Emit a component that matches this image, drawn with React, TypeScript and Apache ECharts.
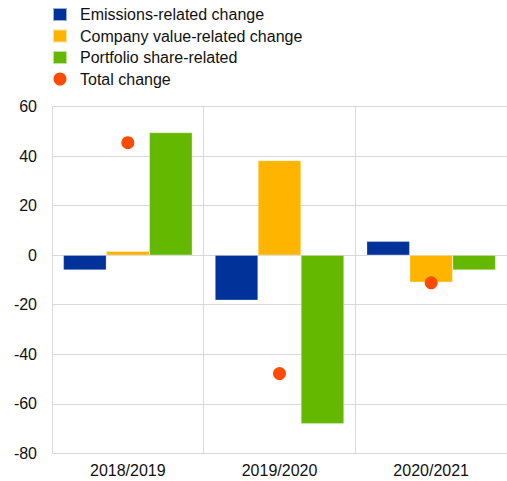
import React, { useEffect, useRef } from "react";
import * as echarts from "echarts";

const categories = ["2018/2019", "2019/2020", "2020/2021"];
const emissions = [-6.0, -18.2, 5.6];
const companyValue = [1.6, 38.2, -10.9];
const portfolioShare = [49.5, -68.1, -6.0];
const totalChange = [45.4, -47.8, -11.2];
const yTicks = { min: -80, max: 60, interval: 20 };

const FONT = "'Liberation Sans', Arial, sans-serif";

export default function App() {
  const ref = useRef<HTMLDivElement>(null);
  useEffect(() => {
    if (!ref.current) return;
    const chart = echarts.init(ref.current, undefined, { renderer: "svg" });
    chart.setOption({
      animation: false,
      textStyle: { fontFamily: FONT },
      legend: {
        orient: "vertical",
        left: 47,
        top: 1,
        itemWidth: 14,
        itemHeight: 13,
        itemGap: 4.5,
        textStyle: { fontSize: 16, lineHeight: 17, color: "#111", fontFamily: FONT, padding: [0, 0, 0, 8] },
        data: [
          { name: "Emissions-related change", icon: "rect" },
          { name: "Company value-related change", icon: "rect" },
          { name: "Portfolio share-related", icon: "rect" },
          { name: "Total change", icon: "circle" },
        ],
      },
      grid: { left: 52, top: 106.5, width: 457, bottom: 27.7, containLabel: false },
      xAxis: {
        type: "category",
        data: categories,
        boundaryGap: true,
        axisLine: { show: true, lineStyle: { color: "#d9d9d9" } },
        axisTick: { show: false },
        axisLabel: { fontSize: 16, color: "#111", margin: 9, fontFamily: FONT },
        splitLine: { show: true, interval: 0, lineStyle: { color: "#d9d9d9" } },
      },
      yAxis: {
        type: "value",
        min: yTicks.min,
        max: yTicks.max,
        interval: yTicks.interval,
        axisLine: { show: true, lineStyle: { color: "#d9d9d9" } },
        axisTick: { show: false },
        axisLabel: { fontSize: 16, color: "#111", margin: 15, fontFamily: FONT },
        splitLine: { show: true, lineStyle: { color: "#d9d9d9" } },
      },
      series: [
        {
          name: "Emissions-related change",
          type: "bar",
          data: emissions,
          barGap: "0%",
          barCategoryGap: "15%",
          itemStyle: { color: "#003299", borderColor: "rgba(255,255,255,0.6)", borderWidth: 0.5 },
        },
        {
          name: "Company value-related change",
          type: "bar",
          data: companyValue,
          barGap: "0%",
          barCategoryGap: "15%",
          itemStyle: { color: "#FFB400", borderColor: "rgba(255,255,255,0.6)", borderWidth: 0.5 },
        },
        {
          name: "Portfolio share-related",
          type: "bar",
          data: portfolioShare,
          barGap: "0%",
          barCategoryGap: "15%",
          itemStyle: { color: "#65B800", borderColor: "rgba(255,255,255,0.6)", borderWidth: 0.5 },
        },
        {
          name: "Total change",
          type: "scatter",
          data: totalChange,
          symbol: "circle",
          symbolSize: 13,
          itemStyle: { color: "#FF4B00", opacity: 1 },
          z: 5,
        },
      ],
    });
    return () => chart.dispose();
  }, []);
  return <div ref={ref} style={{ width: 507, height: 481, position: "absolute", left: 0, top: 0 }} />;
}
